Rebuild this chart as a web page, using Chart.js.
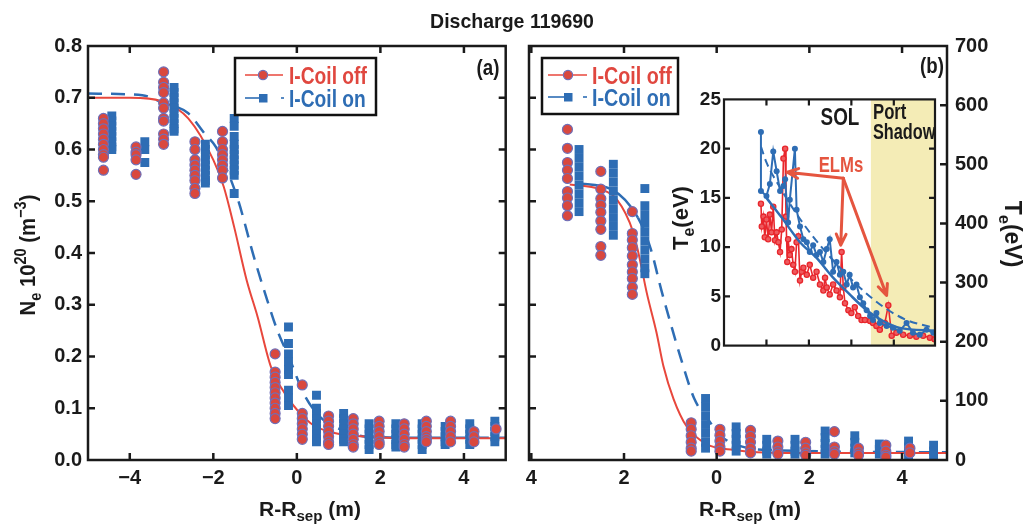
<!DOCTYPE html>
<html><head><meta charset="utf-8">
<script src="https://cdn.jsdelivr.net/npm/chart.js@4.4.1/dist/chart.umd.min.js"></script>
<style>
html,body{margin:0;padding:0;background:#fff;}
#wrap{position:relative;width:1024px;height:529px;overflow:hidden;background:#fff;}
canvas{position:absolute;}
.t{position:absolute;font-family:"Liberation Sans",Arial,sans-serif;font-weight:bold;white-space:nowrap;line-height:1;color:#1a1a1a;}
sub,sup{font-size:0.72em;line-height:0;}
sub{vertical-align:-0.35em;}
sup{vertical-align:0.55em;}
</style></head>
<body><div id="wrap">
<canvas id="cA" width="512" height="529" style="left:0;top:0"></canvas>
<canvas id="cB" width="512" height="529" style="left:512px;top:0"></canvas>
<canvas id="cI" width="275" height="275" style="left:670px;top:85px"></canvas>
<svg width="1024" height="529" style="position:absolute;left:0;top:0">
  <rect x="235" y="58" width="141" height="57" fill="#fff" stroke="#111" stroke-width="2.5"/>
  <line x1="245" y1="75" x2="283" y2="75" stroke="#e8473c" stroke-width="1.6"/>
  <circle cx="263" cy="75" r="4.6" fill="#d9483e" stroke="#6f6fb8" stroke-width="1.2"/>
  <line x1="245" y1="98" x2="262" y2="98" stroke="#2e6db4" stroke-width="1.6"/>
  <rect x="259" y="94" width="8.5" height="8.5" fill="#2e6db4"/>
  <line x1="281" y1="98" x2="284" y2="98" stroke="#2e6db4" stroke-width="1.6"/>
  <rect x="542" y="58" width="136" height="56" fill="#fff" stroke="#111" stroke-width="2.5"/>
  <line x1="548" y1="75" x2="587" y2="75" stroke="#e8473c" stroke-width="1.6"/>
  <circle cx="568" cy="75" r="4.6" fill="#d9483e" stroke="#6f6fb8" stroke-width="1.2"/>
  <line x1="548" y1="97" x2="564" y2="97" stroke="#2e6db4" stroke-width="1.6"/>
  <rect x="564" y="93" width="8.5" height="8.5" fill="#2e6db4"/>
  <line x1="583" y1="97" x2="587" y2="97" stroke="#2e6db4" stroke-width="1.6"/>
</svg>
<div class="t" style="left:512px;top:20px;font-size:21px;transform:translate(-50%,-50%) scaleX(0.93);">Discharge 119690</div>
<div class="t" style="left:289px;top:76px;font-size:24px;color:#e0473f;transform-origin:0 50%;transform:translate(0,-50%) scaleX(0.8);">I-Coil off</div>
<div class="t" style="left:289px;top:99px;font-size:24px;color:#2e6db4;transform-origin:0 50%;transform:translate(0,-50%) scaleX(0.8);">I-Coil on</div>
<div class="t" style="left:592px;top:76px;font-size:24px;color:#e0473f;transform-origin:0 50%;transform:translate(0,-50%) scaleX(0.82);">I-Coil off</div>
<div class="t" style="left:592px;top:98px;font-size:24px;color:#2e6db4;transform-origin:0 50%;transform:translate(0,-50%) scaleX(0.82);">I-Coil on</div>
<div class="t" style="left:488px;top:68px;font-size:22px;transform:translate(-50%,-50%) scaleX(0.85);">(a)</div>
<div class="t" style="left:932px;top:66px;font-size:22px;transform:translate(-50%,-50%) scaleX(0.85);">(b)</div>
<div class="t" style="left:28px;top:255px;font-size:22px;transform:translate(-50%,-50%) rotate(-90deg) scaleX(0.92);">N<sub>e</sub> 10<sup>20</sup> (m<sup>&minus;3</sup>)</div>
<div class="t" style="left:310px;top:508px;font-size:21px;transform:translate(-50%,-50%);">R-R<sub>sep</sub> (m)</div>
<div class="t" style="left:750px;top:508px;font-size:21px;transform:translate(-50%,-50%);">R-R<sub>sep</sub> (m)</div>
<div class="t" style="left:1012px;top:234px;font-size:23px;transform:translate(-50%,-50%) rotate(90deg);">T<sub>e</sub>(eV)</div>
<div class="t" style="left:681px;top:218px;font-size:22px;transform:translate(-50%,-50%) rotate(-90deg);">T<sub>e</sub>(eV)</div>
<div class="t" style="left:840px;top:117px;font-size:23px;transform:translate(-50%,-50%) scaleX(0.82);">SOL</div>
<div class="t" style="left:873px;top:112px;font-size:22px;transform-origin:0 50%;transform:translate(0,-50%) scaleX(0.76);">Port</div>
<div class="t" style="left:873px;top:132px;font-size:22px;transform-origin:0 50%;transform:translate(0,-50%) scaleX(0.74);">Shadow</div>
<div class="t" style="left:841px;top:165px;font-size:22px;color:#e5553f;transform:translate(-50%,-50%) scaleX(0.76);">ELMs</div>
</div>
<script>
// ---------------- DATA ----------------
// Panel (a): density, I-Coil off (circles) clusters
const neOffX = [-4.63,-3.85,-3.19,-2.44,-1.78,-0.52,0.13,0.76,1.35,1.97,2.57,3.1,3.68,4.24,4.77];
const neOffY = [
 [0.66,0.65,0.64,0.63,0.62,0.61,0.60,0.59,0.585,0.56],
 [0.605,0.595,0.59,0.58,0.552],
 [0.75,0.73,0.72,0.71,0.69,0.68,0.66,0.655,0.63,0.62,0.61],
 [0.615,0.60,0.58,0.57,0.56,0.55,0.54,0.525,0.515],
 [0.635,0.615,0.60,0.59,0.58,0.57,0.56,0.545],
 [0.205,0.17,0.16,0.15,0.14,0.13,0.12,0.11,0.10,0.09,0.08],
 [0.145,0.09,0.08,0.07,0.06,0.05,0.04],
 [0.085,0.075,0.065,0.055,0.045,0.035,0.03],
 [0.08,0.07,0.06,0.05,0.04,0.03,0.025],
 [0.075,0.065,0.055,0.045,0.035,0.03],
 [0.07,0.06,0.05,0.04,0.03,0.025],
 [0.075,0.065,0.055,0.045,0.04,0.035],
 [0.075,0.065,0.055,0.045,0.035],
 [0.055,0.045,0.035],
 [0.06]
];
// Panel (a): density, I-Coil on (squares) clusters
const neOnX = [-4.43,-3.64,-2.94,-2.19,-1.5,-0.2,0.47,1.12,1.73,2.37,3.0,3.55,4.14,4.74];
const neOnY = [
 [0.665,0.655,0.645,0.635,0.625,0.615,0.605,0.60],
 [0.615,0.60,0.575],
 [0.72,0.71,0.70,0.69,0.68,0.67,0.66,0.65,0.64,0.635],
 [0.61,0.60,0.59,0.58,0.57,0.56,0.55,0.54,0.535],
 [0.66,0.645,0.625,0.61,0.60,0.59,0.58,0.57,0.56,0.55,0.515],
 [0.257,0.225,0.205,0.19,0.175,0.165,0.135,0.12,0.105],
 [0.125,0.10,0.09,0.08,0.07,0.06,0.05,0.04,0.035],
 [0.09,0.08,0.07,0.06,0.05,0.04,0.035],
 [0.07,0.06,0.05,0.04,0.03,0.02],
 [0.07,0.06,0.05,0.04,0.03,0.025],
 [0.07,0.06,0.05,0.04,0.03,0.02],
 [0.065,0.055,0.045,0.035,0.03],
 [0.07,0.06,0.05,0.04,0.03],
 [0.075,0.065,0.055,0.045,0.035]
];
// Panel (a) fit curves
const neOffFitX = [-5,-4,-3.2,-2.6,-2.0,-1.75,-1.5,-1.2,-0.94,-0.62,-0.23,0.33,0.9,1.7,3,5];
const neOffFitY = [0.70,0.70,0.692,0.66,0.58,0.528,0.45,0.347,0.277,0.18,0.122,0.071,0.052,0.045,0.042,0.042];
const neOnFitX = [-5,-3.7,-3.2,-2.6,-2.2,-1.94,-1.43,-1.03,-0.71,-0.47,-0.16,0.16,0.56,1.12,1.7,3,5];
const neOnFitY = [0.708,0.705,0.69,0.67,0.63,0.605,0.508,0.393,0.309,0.251,0.193,0.129,0.083,0.057,0.045,0.043,0.043];

// Panel (b): temperature (eV, right axis)
const teOffX = [-3.22,-2.5,-1.82,-0.55,0.07,0.73,1.32,1.92,2.54,3.06,3.65,4.17];
const teOffY = [
 [559,527,503,490,476,454,443,430,413],
 [488,458,442,431,419,404,390,361,346],
 [420,383,372,359,345,330,318,307,292,280],
 [63,52,41,30,20,15],
 [52,42,32,22,15],
 [50,40,30,20,12],
 [32,22,14,10],
 [30,20,12,8],
 [48,22,14,10],
 [20,12,8],
 [25,15,8,5],
 [20,12]
];
const teOnX = [-2.97,-2.23,-1.55,-0.24,0.42,1.08,1.69,2.34,2.98,3.51,4.14,4.68];
const teOnY = [
 [525,510,495,480,465,450,435,420],
 [500,485,470,455,440,425,410,395,380],
 [459,430,415,400,385,370,355,340,325,315],
 [104,90,75,60,45,30,20],
 [56,45,35,25,15],
 [35,25,15,10],
 [35,25,15,10],
 [49,38,28,18,10],
 [41,30,20,12],
 [27,18,10],
 [32,22,14,8],
 [25,15,8]
];
const teOffFitX = [-3.17,-2.52,-2.16,-1.8,-1.66,-1.51,-1.3,-1.15,-0.93,-0.65,-0.22,0.36,1.5,4.97];
const teOffFitY = [466,458,441,385,340,283,216,159,103,57,27,17,12,12];
const teOnFitX = [-3.0,-2.28,-1.7,-1.42,-1.2,-0.98,-0.77,-0.48,-0.19,0.1,0.53,1.1,4.97];
const teOnFitY = [468,458,410,356,289,227,171,103,69,40,23,17,13];
const teOnSolidUntil = -1.7;

// Inset: Te (eV) traces
const insetOnX = [0.87,0.87,1.00,1.08,1.16,1.24,1.32,1.40,1.44,1.51,1.55,1.67,1.71,1.79,1.87,1.95,2.02,2.10,2.18,2.26,2.34,2.42,2.49,2.57,2.65,2.73,2.81,2.89,2.96,3.04,3.12,3.20,3.28,3.36,3.44,3.51,3.59,3.67,3.83,3.98,4.14,4.30,4.45,4.61,4.77,4.93];
const insetOnY = [21.7,15.7,15.2,16.4,19.7,17.7,15.7,16.2,16.9,12.5,14.8,20.0,13.8,12.1,10.8,10.5,9.5,10.2,9.2,9.5,8.5,9.8,10.8,7.5,8.5,7.2,7.5,6.2,7.2,5.9,6.2,4.9,4.3,3.6,3.0,2.6,3.3,2.3,2.0,1.8,1.5,2.3,1.3,1.1,1.6,1.3];
const insetOffX = [0.87,0.89,0.93,0.96,1.00,1.04,1.08,1.12,1.16,1.20,1.24,1.28,1.32,1.36,1.40,1.44,1.46,1.49,1.51,1.55,1.59,1.63,1.67,1.71,1.75,1.79,1.83,1.87,1.95,2.02,2.10,2.18,2.26,2.34,2.38,2.42,2.49,2.57,2.65,2.73,2.77,2.81,2.85,2.93,3.00,3.08,3.16,3.24,3.32,3.44,3.51,3.59,3.67,3.79,3.87,3.95,4.06,4.22,4.38,4.53,4.69,4.85,4.96];
const insetOffY = [14.4,12.1,13.1,11.0,12.8,10.8,13.3,11.5,14.1,10.7,11.5,10.5,9.5,11.8,19.0,20.0,13.1,8.5,10.8,9.2,9.8,8.2,7.5,10.5,11.1,6.6,7.5,7.9,7.2,8.2,6.9,7.5,6.2,5.6,6.9,5.9,5.2,6.2,5.6,4.9,9.5,5.9,4.3,3.6,3.3,3.9,3.0,2.6,2.6,2.5,2.3,2.0,1.6,2.3,4.1,1.0,1.3,1.1,1.0,0.9,1.0,0.8,0.65];
const insetFitX = [1.0,1.36,1.79,2.18,2.57,2.96,3.36,3.75,4.14,4.97];
const insetFitY = [15.0,13.0,10.5,8.9,6.9,5.2,3.6,2.5,1.8,1.5];
const insetFitDashX = [0.87,1.0,1.3,1.8,2.3,2.8,3.3,3.8,4.3,4.95];
const insetFitDashY = [20.2,18.6,16.2,12.8,10.0,7.6,5.5,3.8,2.6,1.8];
const portShadowStart = 3.46;
const elmFrom = [2.81,17.0];
const elmToX = [1.49,2.75,3.83];
const elmToY = [17.6,10.2,5.1];

// Tick values
const xTicksA = [-4,-2,0,2,4];
const yTicksNe = [0,0.1,0.2,0.3,0.4,0.5,0.6,0.7,0.8];
const yTicksTe = [0,100,200,300,400,500,600,700];
const insetYTicks = [0,5,10,15,20,25];
const insetXTicks = [1,2,3,4];

// ---------------- helpers ----------------
const F = '"Liberation Sans",Arial,sans-serif';
const RED='#e8473c', REDM='#d9483e', RING='#6f6fb8', BLUE='#2e6db4', INK='#1a1a1a';
const zip=(xs,ys)=>xs.map((x,i)=>({x,y:ys[i]}));
const cluster=(xs,yss)=>{const p=[];xs.forEach((x,i)=>yss[i].forEach(y=>p.push({x,y})));return p;};
const tickFont = s=>({family:F,size:s,weight:'bold'});

const frameTicks = {
  id:'frameTicks',
  beforeDatasetsDraw(chart,args,o){
    const {ctx,chartArea:a}=chart;
    ctx.save();
    if(o.fill){ctx.fillStyle=o.fill;ctx.fillRect(a.left,a.top,a.right-a.left,a.bottom-a.top);}
    if(o.shade!=null){const p=chart.scales.x.getPixelForValue(o.shade);ctx.fillStyle='#f4ecb6';ctx.fillRect(p,a.top,a.right-p,a.bottom-a.top);}
    ctx.restore();
  },
  afterDraw(chart,args,o){
    const {ctx,chartArea:a}=chart; const L=o.len||7;
    ctx.save(); ctx.strokeStyle=INK; ctx.lineWidth=o.lw||2.5;
    ctx.beginPath();
    (o.xv||[]).forEach(v=>{const p=chart.scales.x.getPixelForValue(v);ctx.moveTo(p,a.bottom);ctx.lineTo(p,a.bottom-L);ctx.moveTo(p,a.top);ctx.lineTo(p,a.top+L);});
    (o.lv||[]).forEach(v=>{const p=chart.scales[o.ls].getPixelForValue(v);ctx.moveTo(a.left,p);ctx.lineTo(a.left+L,p);});
    (o.rv||[]).forEach(v=>{const p=chart.scales[o.rs].getPixelForValue(v);ctx.moveTo(a.right,p);ctx.lineTo(a.right-L,p);});
    ctx.stroke();
    ctx.strokeRect(a.left,a.top,a.right-a.left,a.bottom-a.top);
    ctx.restore();
  }
};
const elmArrows = {
  id:'elmArrows',
  afterDatasetsDraw(chart){
    const {ctx}=chart,x=chart.scales.x,y=chart.scales.y;
    const ox=x.getPixelForValue(elmFrom[0]), oy=y.getPixelForValue(elmFrom[1]);
    ctx.save(); ctx.strokeStyle='#e5553f'; ctx.lineWidth=3; ctx.lineCap='round';
    elmToX.forEach((tx,i)=>{
      const px=x.getPixelForValue(tx), py=y.getPixelForValue(elmToY[i]);
      const ang=Math.atan2(py-oy,px-ox);
      ctx.beginPath(); ctx.moveTo(ox,oy); ctx.lineTo(px,py);
      for(const s of [-1,1]){const b=ang+Math.PI+s*0.42;ctx.moveTo(px,py);ctx.lineTo(px+12*Math.cos(b),py+12*Math.sin(b));}
      ctx.stroke();
    });
    ctx.restore();
  }
};
function xScale(min,max,vals,fmt){
  return {type:'linear',min,max,
    afterBuildTicks(s){s.ticks=vals.map(v=>({value:v}));},
    afterFit(s){s.height=69;},
    grid:{display:false,drawTicks:false},border:{display:false},
    ticks:{autoSkip:false,maxRotation:0,padding:6,color:INK,font:tickFont(20),callback:fmt}};
}
const base = {responsive:false,animation:false,events:[],
  plugins:{legend:{display:false},tooltip:{enabled:false}}};

// ---------------- Chart (a) ----------------
new Chart(document.getElementById('cA'),{
  type:'scatter',
  data:{datasets:[
    {data:cluster(neOffX,neOffY),pointStyle:'circle',pointRadius:5,backgroundColor:REDM,borderColor:RING,borderWidth:1.2,order:1},
    {data:cluster(neOnX,neOnY),pointStyle:'rect',pointRadius:6.3,backgroundColor:BLUE,borderColor:BLUE,borderWidth:0,order:2},
    {data:zip(neOffFitX,neOffFitY),showLine:true,borderColor:RED,borderWidth:2,pointRadius:0,cubicInterpolationMode:'monotone',order:3},
    {data:zip(neOnFitX,neOnFitY),showLine:true,borderColor:BLUE,borderWidth:2.5,borderDash:[14,9],pointRadius:0,cubicInterpolationMode:'monotone',order:4}
  ]},
  options:{...base,layout:{padding:{left:0,right:4,top:46,bottom:0}},
    scales:{
      x:xScale(-5,5,xTicksA,v=>v<0?'\u2212'+Math.abs(v):String(v)),
      y:{type:'linear',min:0,max:0.8,afterBuildTicks(s){s.ticks=yTicksNe.map(v=>({value:v}));},afterFit(s){s.width=88;},
        grid:{display:false,drawTicks:false},border:{display:false},
        ticks:{autoSkip:false,padding:6,color:INK,font:tickFont(20),callback:v=>v.toFixed(1)}}
    },
    plugins:{...base.plugins,frameTicks:{xv:xTicksA,lv:yTicksNe.slice(1,-1),ls:'y',rv:yTicksNe.slice(1,-1),rs:'y'}}
  },
  plugins:[frameTicks]
});

// ---------------- Chart (b) ----------------
new Chart(document.getElementById('cB'),{
  type:'scatter',
  data:{datasets:[
    {data:cluster(teOffX,teOffY),yAxisID:'yR',pointStyle:'circle',pointRadius:5,backgroundColor:REDM,borderColor:RING,borderWidth:1.2,order:1},
    {data:cluster(teOnX,teOnY),yAxisID:'yR',pointStyle:'rect',pointRadius:6.3,backgroundColor:BLUE,borderColor:BLUE,borderWidth:0,order:2},
    {data:zip(teOffFitX,teOffFitY),yAxisID:'yR',showLine:true,borderColor:RED,borderWidth:2,pointRadius:0,cubicInterpolationMode:'monotone',order:3},
    {data:zip(teOnFitX,teOnFitY),yAxisID:'yR',showLine:true,borderColor:BLUE,borderWidth:2.5,pointRadius:0,cubicInterpolationMode:'monotone',order:4,
      segment:{borderDash:ctx=>ctx.p0.parsed.x>=teOnSolidUntil?[14,9]:undefined}}
  ]},
  options:{...base,layout:{padding:{left:0,right:0,top:46,bottom:0}},
    scales:{
      x:xScale(-4.05,4.97,xTicksA,v=>String(Math.abs(v))),
      yL:{type:'linear',position:'left',min:0,max:0.8,afterFit(s){s.width=17;},
        grid:{display:false,drawTicks:false},border:{display:false},ticks:{display:false}},
      yR:{type:'linear',position:'right',min:0,max:700,afterBuildTicks(s){s.ticks=yTicksTe.map(v=>({value:v}));},afterFit(s){s.width=77;},
        grid:{display:false,drawTicks:false},border:{display:false},
        ticks:{autoSkip:false,padding:8,color:INK,font:tickFont(20)}}
    },
    plugins:{...base.plugins,frameTicks:{xv:xTicksA,lv:yTicksNe.slice(1,-1),ls:'yL',rv:yTicksTe.slice(1,-1),rs:'yR'}}
  },
  plugins:[frameTicks]
});

// ---------------- Inset ----------------
new Chart(document.getElementById('cI'),{
  type:'scatter',
  data:{datasets:[
    {data:zip(insetOffX,insetOffY),showLine:true,borderColor:'#e8262c',borderWidth:1.6,pointRadius:2.6,pointBackgroundColor:'#ee5a5e',pointBorderColor:'#e8262c',pointBorderWidth:1.3,order:5},
    {data:zip(insetFitDashX,insetFitDashY),showLine:true,borderColor:BLUE,borderWidth:2,borderDash:[8,5],pointRadius:0,cubicInterpolationMode:'monotone',order:4},
    {data:zip(insetFitX,insetFitY),showLine:true,borderColor:BLUE,borderWidth:2.5,pointRadius:0,cubicInterpolationMode:'monotone',order:3},
    {data:zip(insetOnX,insetOnY),showLine:true,borderColor:BLUE,borderWidth:2,pointRadius:3,pointBackgroundColor:BLUE,pointBorderColor:BLUE,pointBorderWidth:0,order:2}
  ]},
  options:{...base,layout:{padding:{left:0,right:10,top:13,bottom:0}},
    scales:{
      x:{type:'linear',min:0,max:4.97,afterFit(s){s.height=10;},grid:{display:false,drawTicks:false},border:{display:false},ticks:{display:false}},
      y:{type:'linear',min:0,max:25,afterBuildTicks(s){s.ticks=insetYTicks.map(v=>({value:v}));},afterFit(s){s.width=54;},
        grid:{display:false,drawTicks:false},border:{display:false},
        ticks:{autoSkip:false,padding:3,color:INK,font:tickFont(19)}}
    },
    plugins:{...base.plugins,frameTicks:{fill:'#fff',shade:portShadowStart,len:6,lw:2.2,xv:insetXTicks,lv:insetYTicks.slice(1,-1),ls:'y',rv:insetYTicks.slice(1,-1),rs:'y'}}
  },
  plugins:[frameTicks,elmArrows]
});
</script>
</body></html>
